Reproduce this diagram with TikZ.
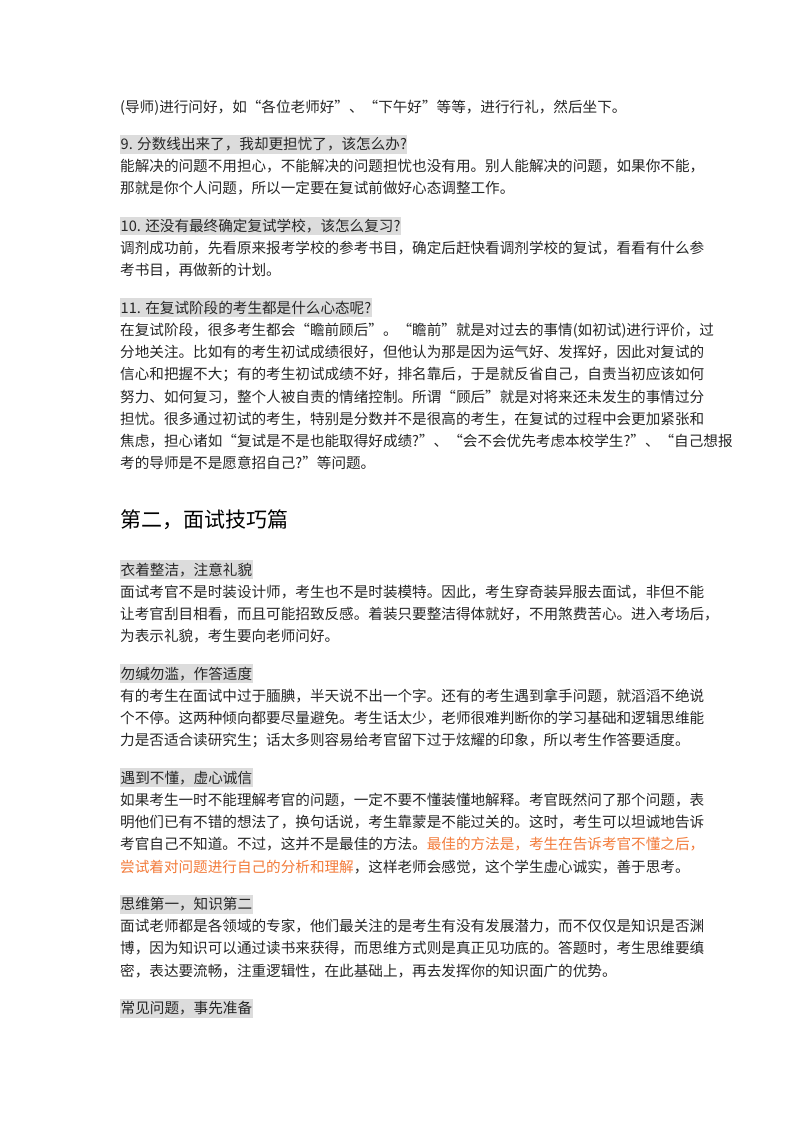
\documentclass[tikz,border=0pt]{standalone}
\usepackage{fontspec}
\setmainfont{Noto Sans CJK SC}
\definecolor{txt}{HTML}{262626}
\definecolor{hl}{HTML}{DCDCDC}
\definecolor{org}{HTML}{F37B3A}
\begin{document}
\begin{tikzpicture}[x=1pt,y=-1pt,
  ln/.style={anchor=base west,inner sep=0pt,font=\fontsize{14.6pt}{16pt}\selectfont,text=txt},
  hd/.style={ln,fill=hl,inner ysep=2.5pt,inner xsep=0.5pt},
  ttl/.style={anchor=base west,inner sep=0pt,font=\fontsize{21pt}{24pt}\selectfont,text=black}]
\useasboundingbox (0,0) rectangle (800,1132);
\fill[white] (0,0) rectangle (800,1132);
\node[ln] (a1) at (120,112) {(导师)进行问好，如“各位老师好”、“下午好”等等，进行行礼，然后坐下。};
\node[hd] (h9) at (120,149.5) {9. 分数线出来了，我却更担忧了，该怎么办?};
\node[ln] (b1) at (120,171.7) {能解决的问题不用担心，不能解决的问题担忧也没有用。别人能解决的问题，如果你不能，};
\node[ln] (b2) at (120,193.9) {那就是你个人问题，所以一定要在复试前做好心态调整工作。};
\node[hd] (h10) at (120,231.4) {10. 还没有最终确定复试学校，该怎么复习?};
\node[ln] (c1) at (120,253.6) {调剂成功前，先看原来报考学校的参考书目，确定后赶快看调剂学校的复试，看看有什么参};
\node[ln] (c2) at (120,275.8) {考书目，再做新的计划。};
\node[hd] (h11) at (120,313.3) {11. 在复试阶段的考生都是什么心态呢?};
\node[ln] (d1) at (120,335.5) {在复试阶段，很多考生都会“瞻前顾后”。“瞻前”就是对过去的事情(如初试)进行评价，过};
\node[ln] (d2) at (120,357.7) {分地关注。比如有的考生初试成绩很好，但他认为那是因为运气好、发挥好，因此对复试的};
\node[ln] (d3) at (120,379.9) {信心和把握不大；有的考生初试成绩不好，排名靠后，于是就反省自己，自责当初应该如何};
\node[ln] (d4) at (120,402.1) {努力、如何复习，整个人被自责的情绪控制。所谓“顾后”就是对将来还未发生的事情过分};
\node[ln] (d5) at (120,424.3) {担忧。很多通过初试的考生，特别是分数并不是很高的考生，在复试的过程中会更加紧张和};
\node[ln] (d6) at (120,446.5) {焦虑，担心诸如“复试是不是也能取得好成绩?”、“会不会优先考虑本校学生?”、“自己想报};
\node[ln] (d7) at (120,468.7) {考的导师是不是愿意招自己?”等问题。};
\node[ttl] (t) at (120,527) {第二，面试技巧篇};
\node[hd] (e0) at (120,575) {衣着整洁，注意礼貌};
\node[ln] (e1) at (120,597.2) {面试考官不是时装设计师，考生也不是时装模特。因此，考生穿奇装异服去面试，非但不能};
\node[ln] (e2) at (120,619.4) {让考官刮目相看，而且可能招致反感。着装只要整洁得体就好，不用煞费苦心。进入考场后，};
\node[ln] (e3) at (120,641.6) {为表示礼貌，考生要向老师问好。};
\node[hd] (f0) at (120,679.1) {勿缄勿滥，作答适度};
\node[ln] (f1) at (120,701.3) {有的考生在面试中过于腼腆，半天说不出一个字。还有的考生遇到拿手问题，就滔滔不绝说};
\node[ln] (f2) at (120,723.5) {个不停。这两种倾向都要尽量避免。考生话太少，老师很难判断你的学习基础和逻辑思维能};
\node[ln] (f3) at (120,745.7) {力是否适合读研究生；话太多则容易给考官留下过于炫耀的印象，所以考生作答要适度。};
\node[hd] (g0) at (120,783.2) {遇到不懂，虚心诚信};
\node[ln] (g1) at (120,805.4) {如果考生一时不能理解考官的问题，一定不要不懂装懂地解释。考官既然问了那个问题，表};
\node[ln] (g2) at (120,827.6) {明他们已有不错的想法了，换句话说，考生靠蒙是不能过关的。这时，考生可以坦诚地告诉};
\node[ln] (g3) at (120,849.8) {考官自己不知道。不过，这并不是最佳的方法。\textcolor{org}{最佳的方法是，考生在告诉考官不懂之后，}};
\node[ln] (g4) at (120,872) {\textcolor{org}{尝试着对问题进行自己的分析和理解}，这样老师会感觉，这个学生虚心诚实，善于思考。};
\node[hd] (k0) at (120,909.5) {思维第一，知识第二};
\node[ln] (k1) at (120,931.7) {面试老师都是各领域的专家，他们最关注的是考生有没有发展潜力，而不仅仅是知识是否渊};
\node[ln] (k2) at (120,953.9) {博，因为知识可以通过读书来获得，而思维方式则是真正见功底的。答题时，考生思维要缜};
\node[ln] (k3) at (120,976.1) {密，表达要流畅，注重逻辑性，在此基础上，再去发挥你的知识面广的优势。};
\node[hd] (m0) at (120,1013.6) {常见问题，事先准备};
\end{tikzpicture}
\end{document}
